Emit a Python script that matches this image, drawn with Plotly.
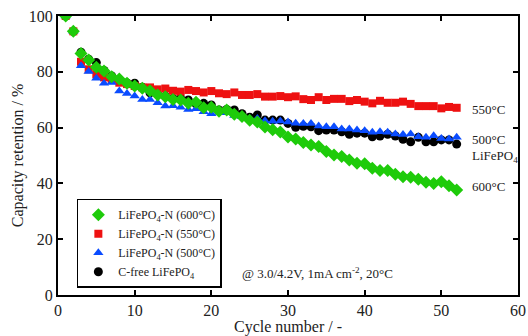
import plotly.graph_objects as go

cycles = list(range(1, 53))

cap_600 = [100, 94.5, 86.6, 84.2, 81.6, 80.3, 78.2, 77.4, 75.9, 74.9,
           74.1, 73.2, 71.7, 71.1, 70.1, 69.9, 68.7, 69.1, 67.1, 67.3,
           65.9, 66.3, 64.8, 64.0, 62.6, 62.0, 60.2, 59.2, 58.4, 56.6,
           55.9, 54.7, 53.8, 53.2, 51.4, 50.2, 49.6, 48.4, 47.2, 47.0,
           45.4, 44.6, 44.6, 43.3, 42.4, 42.2, 41.5, 40.4, 40.0, 40.6,
           39.2, 37.6]

cap_550 = [100, 94.5, 83.6, 80.9, 79.1, 78.0, 77.3, 76.1, 75.6, 74.9,
           74.4, 74.4, 73.7, 74.0, 73.2, 72.9, 73.5, 73.1, 72.6, 73.1,
           72.3, 72.0, 72.6, 71.7, 71.7, 72.0, 71.1, 71.1, 71.3, 70.9,
           71.2, 70.2, 69.9, 70.9, 69.9, 70.3, 70.3, 69.5, 69.9, 69.3,
           68.7, 69.6, 68.9, 68.9, 69.3, 68.5, 67.7, 67.7, 67.7, 66.9,
           67.4, 67.1]

cap_500 = [100, 94.5, 82.2, 80.1, 77.7, 75.9, 76.2, 73.1, 72.2, 71.3,
           70.1, 70.1, 68.9, 67.7, 67.8, 67.3, 66.5, 66.8, 65.7, 65.0,
           65.4, 65.3, 64.3, 63.9, 63.3, 63.3, 62.5, 62.3, 62.4, 62.0,
           61.6, 61.5, 61.5, 60.6, 60.3, 60.3, 59.5, 59.5, 59.1, 58.9,
           58.3, 58.5, 58.3, 57.7, 57.5, 57.7, 56.7, 56.5, 57.1, 56.1,
           55.9, 56.5]

cap_cfree = [100, 94.5, 87.0, 84.5, 83.3, 80.5, 78.5, 77.0, 76.0, 75.9,
             74.5, 72.5, 72.0, 71.3, 70.5, 70.5, 69.9, 68.5, 68.7, 68.1,
             66.3, 66.5, 66.3, 65.0, 63.7, 64.5, 62.7, 62.7, 62.7, 61.5,
             60.1, 60.5, 60.3, 58.9, 59.1, 59.1, 58.5, 57.6, 58.0, 58.0,
             56.7, 57.0, 57.6, 57.0, 55.8, 54.9, 56.5, 54.9, 54.9, 55.6,
             55.6, 54.1]

series = [
    # name, values, symbol, colour, size, legend rank
    ("C-free LiFePO<sub>4</sub>", cap_cfree, "circle", "#000000", 9, 4),
    ("LiFePO<sub>4</sub>-N (550°C)", cap_550, "square", "#ee1111", 8, 2),
    ("LiFePO<sub>4</sub>-N (500°C)", cap_500, "triangle-up", "#0a4cff", 9, 3),
    ("LiFePO<sub>4</sub>-N (600°C)", cap_600, "diamond", "#1ecb0a", 10, 1),
]

end_labels = ["550°C", "500°C", "LiFePO<sub>4</sub>", "600°C"]
end_label_y = [66.5, 55.8, 49.5, 38.8]

font_family = "Liberation Serif, Times New Roman, serif"
text_color = "#222222"

fig = go.Figure()
for name, vals, sym, col, size, rank in series:
    fig.add_trace(go.Scatter(
        x=cycles, y=vals, mode="markers", name=name, legendrank=rank,
        marker=dict(symbol=sym, color=col, size=size, line=dict(width=0)),
    ))

for txt, yv in zip(end_labels, end_label_y):
    fig.add_annotation(x=53.8, y=yv, xref="x", yref="y", text=txt,
                       showarrow=False, xanchor="left", yanchor="middle",
                       font=dict(size=13, color=text_color, family=font_family))

fig.add_annotation(x=23.8, y=8.0, xref="x", yref="y",
                   text="@ 3.0/4.2V, 1mA cm<sup>-2</sup>, 20°C",
                   showarrow=False, xanchor="left", yanchor="middle",
                   font=dict(size=13, color=text_color, family=font_family))

axis_common = dict(
    showline=True, linecolor="black", linewidth=2, mirror="ticks",
    ticks="inside", ticklen=5, tickwidth=1.5, tickcolor="black",
    showgrid=False, zeroline=False, automargin=False,
    tickfont=dict(size=16, color=text_color, family=font_family),
)

fig.update_xaxes(range=[0, 60], dtick=10, tick0=0,
                 title=dict(text="Cycle number / -", standoff=4,
                            font=dict(size=16, color=text_color, family=font_family)),
                 **axis_common)
fig.update_yaxes(range=[0, 100], dtick=20, tick0=0,
                 title=dict(text="Capacity retention / %", standoff=1,
                            font=dict(size=16, color=text_color, family=font_family)),
                 **axis_common)

fig.update_layout(
    width=528, height=336,
    margin=dict(l=58, r=10, t=16, b=41),
    plot_bgcolor="white", paper_bgcolor="white",
    font=dict(family=font_family, color=text_color),
    legend=dict(
        x=0.041, y=0.345, xanchor="left", yanchor="top",
        bordercolor="black", borderwidth=1.5, bgcolor="white",
        font=dict(size=12, family=font_family, color=text_color),
        itemwidth=30, tracegroupgap=0,
    ),
)

fig.write_html("out.html")
